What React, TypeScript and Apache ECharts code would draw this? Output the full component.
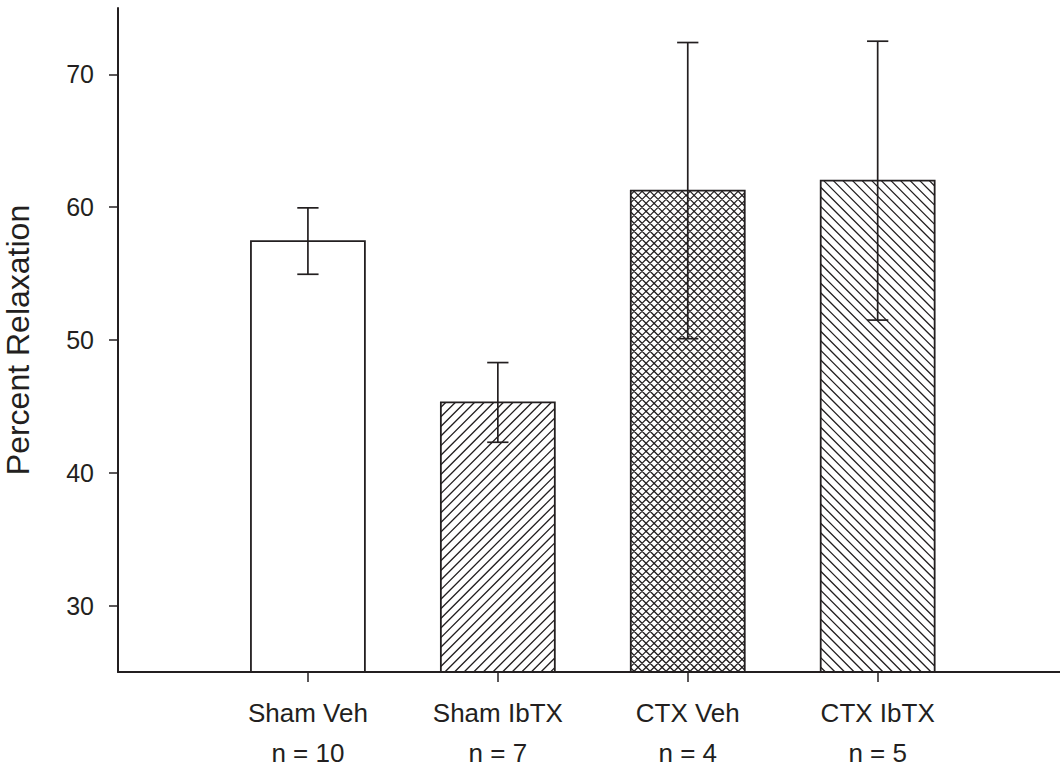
import React, { useEffect, useRef } from "react";
import * as echarts from "echarts";

// Group labels, sample sizes and measured relaxation (mean ± SEM)
const categories = ["Sham Veh", "Sham IbTX", "CTX Veh", "CTX IbTX"];
const sampleSizes = [10, 7, 4, 5];
const means = [57.45, 45.3, 61.25, 62.0];
const errors = [2.5, 3.0, 11.15, 10.5];
// 0 = plain, 1 = forward hatch "/", 2 = cross hatch, 3 = back hatch "\"
const fillPatterns = [0, 1, 2, 3];
const yTicks = [30, 40, 50, 60, 70];
const xPositions = [1, 2, 3, 4];

const Y_MIN = 25;
const Y_MAX = 75;
const X_MAX = 4.96;
const BAR_HALF = 0.3;
const CAP_HALF = 0.056;
const INK = "#231f20";
const FONT = "'Liberation Sans', Arial, Helvetica, sans-serif";

// Segments of x + y = c (forward "/") clipped to a rectangle
function forwardHatch(x0: number, y0: number, x1: number, y1: number, step: number): string {
  let d = "";
  for (let c = x0 + y0 + step / 2; c < x1 + y1; c += step) {
    const lo = Math.max(x0, c - y1);
    const hi = Math.min(x1, c - y0);
    if (hi - lo > 0.2) d += `M${lo} ${c - lo}L${hi} ${c - hi}`;
  }
  return d;
}

// Segments of x - y = c (back "\") clipped to a rectangle
function backHatch(x0: number, y0: number, x1: number, y1: number, step: number): string {
  let d = "";
  for (let c = x0 - y1 + step / 2; c < x1 - y0; c += step) {
    const lo = Math.max(x0, c + y0);
    const hi = Math.min(x1, c + y1);
    if (hi - lo > 0.2) d += `M${lo} ${lo - c}L${hi} ${hi - c}`;
  }
  return d;
}

export default function App() {
  const ref = useRef<HTMLDivElement>(null);

  useEffect(() => {
    if (!ref.current) return;
    const chart = echarts.init(ref.current, null, { renderer: "svg" });

    const data = xPositions.map((x, i) => [x, means[i], errors[i], fillPatterns[i]]);

    const renderItem = (params: any, api: any) => {
      const x = api.value(0);
      const m = api.value(1);
      const e = api.value(2);
      const pat = api.value(3);
      const tl = api.coord([x - BAR_HALF, m]);
      const br = api.coord([x + BAR_HALF, Y_MIN]);
      const x0 = tl[0], y0 = tl[1], x1 = br[0], y1 = br[1];

      const children: any[] = [
        {
          type: "rect",
          shape: { x: x0, y: y0, width: x1 - x0, height: y1 - y0 },
          style: { fill: "#ffffff", stroke: "none" },
        },
      ];

      let hatch = "";
      if (pat === 1) hatch = forwardHatch(x0, y0, x1, y1, 9.6);
      if (pat === 3) hatch = backHatch(x0, y0, x1, y1, 9.6);
      if (pat === 2) hatch = forwardHatch(x0, y0, x1, y1, 8) + backHatch(x0, y0, x1, y1, 8);
      if (hatch) {
        children.push({
          type: "path",
          shape: { pathData: hatch },
          style: { fill: "none", stroke: INK, lineWidth: 1.3 },
        });
      }

      children.push({
        type: "rect",
        shape: { x: x0, y: y0, width: x1 - x0, height: y1 - y0 },
        style: { fill: "none", stroke: INK, lineWidth: 1.8 },
      });

      const top = api.coord([x, m + e]);
      const bot = api.coord([x, m - e]);
      const capL = api.coord([x - CAP_HALF, m])[0];
      const capR = api.coord([x + CAP_HALF, m])[0];
      const errStyle = { stroke: INK, lineWidth: 1.7 };
      children.push(
        { type: "line", shape: { x1: top[0], y1: top[1], x2: bot[0], y2: bot[1] }, style: errStyle },
        { type: "line", shape: { x1: capL, y1: top[1], x2: capR, y2: top[1] }, style: errStyle },
        { type: "line", shape: { x1: capL, y1: bot[1], x2: capR, y2: bot[1] }, style: errStyle }
      );

      return { type: "group", children };
    };

    chart.setOption({
      animation: false,
      backgroundColor: "#ffffff",
      textStyle: { fontFamily: FONT, color: INK },
      grid: {
        left: 118,
        right: 0,
        top: 8,
        bottom: 96,
        containLabel: false,
        outerBoundsMode: "none",
      },
      xAxis: {
        type: "value",
        min: 0,
        max: X_MAX,
        axisLine: { show: true, onZero: false, lineStyle: { color: INK, width: 2 } },
        axisTick: {
          show: true,
          customValues: xPositions,
          length: 10,
          inside: false,
          lineStyle: { color: INK, width: 1.5 },
        },
        axisLabel: {
          customValues: xPositions,
          margin: 3,
          color: INK,
          fontFamily: FONT,
          formatter: (v: number) => {
            const i = Math.round(v) - 1;
            return `{name|${categories[i]}}\n{n|n = ${sampleSizes[i]}}`;
          },
          rich: {
            name: { fontSize: 26, lineHeight: 76, color: INK, fontFamily: FONT },
            n: { fontSize: 26, lineHeight: 4, color: INK, fontFamily: FONT },
          },
        },
        splitLine: { show: false },
      },
      yAxis: {
        type: "value",
        min: Y_MIN,
        max: Y_MAX,
        name: "Percent Relaxation",
        nameLocation: "middle",
        nameRotate: 90,
        nameGap: 84,
        nameTextStyle: { fontSize: 32, color: INK, fontFamily: FONT },
        axisLine: { show: true, lineStyle: { color: INK, width: 2 } },
        axisTick: {
          show: true,
          customValues: yTicks,
          length: 9,
          inside: false,
          lineStyle: { color: INK, width: 1.5 },
        },
        axisLabel: {
          customValues: yTicks,
          margin: 24,
          fontSize: 25,
          color: INK,
          fontFamily: FONT,
        },
        splitLine: { show: false },
      },
      series: [
        {
          type: "custom",
          renderItem,
          data,
          encode: { x: 0, y: 1 },
          clip: false,
        },
      ],
    });

    return () => chart.dispose();
  }, []);

  return (
    <div
      ref={ref}
      style={{ position: "fixed", left: 0, top: 0, width: 1060, height: 768, background: "#fff" }}
    />
  );
}
